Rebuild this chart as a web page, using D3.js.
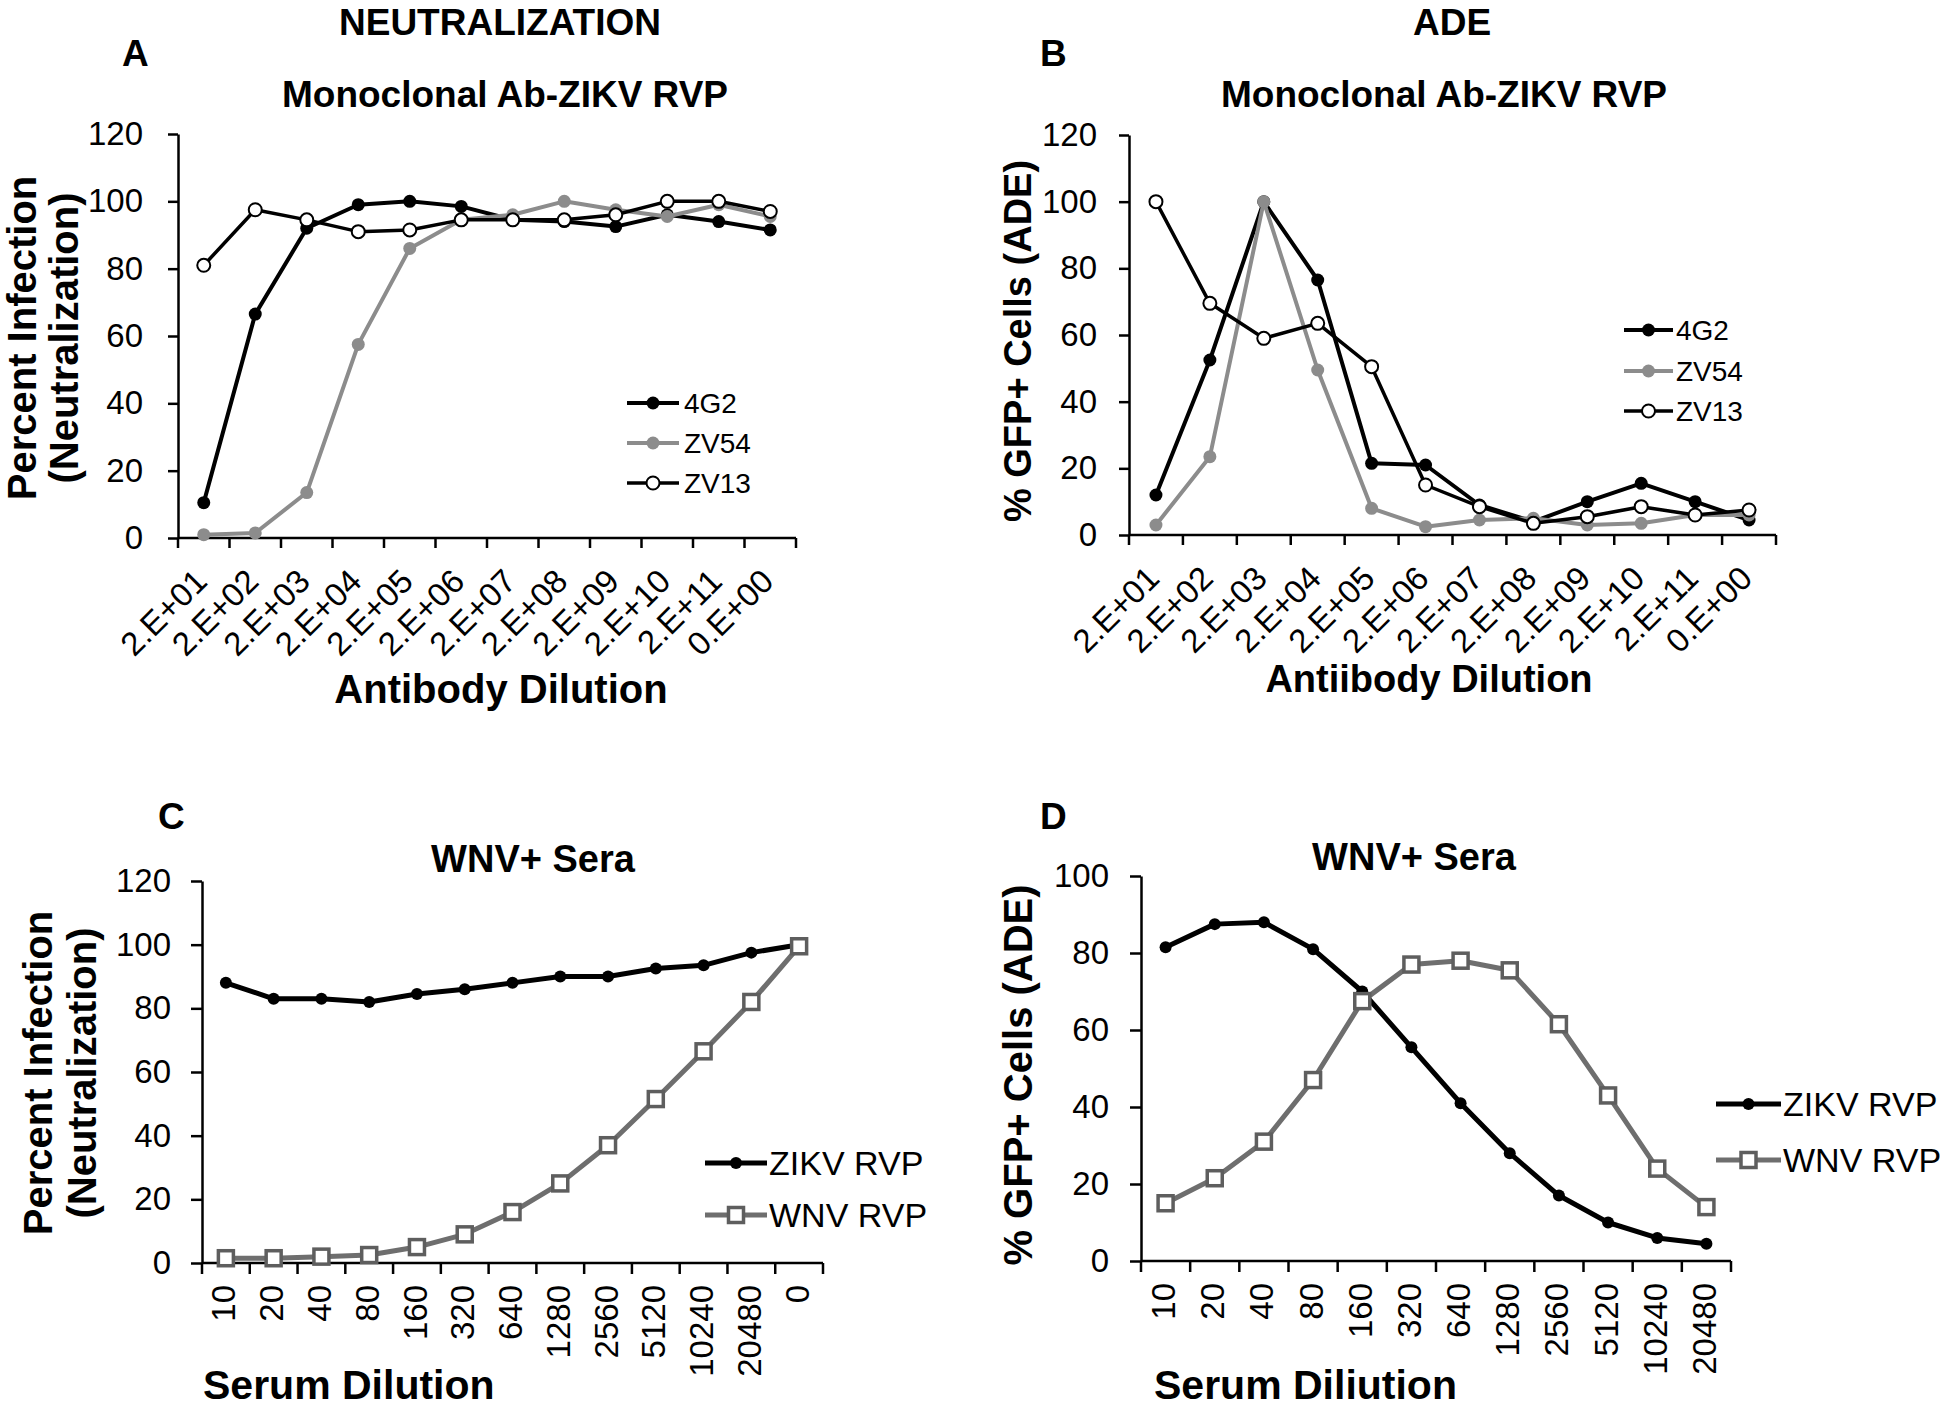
<!DOCTYPE html>
<html>
<head>
<meta charset="utf-8">
<script src="https://cdn.jsdelivr.net/npm/d3@7"></script>
<style>
  html, body { margin: 0; padding: 0; background: #fff; }
  svg { display: block; }
  text { font-family: "Liberation Sans", Arial, sans-serif; fill: #000; }
</style>
</head>
<body>
<script>
// ---------------- DATA ----------------
const antibodyDilutions = ["2.E+01","2.E+02","2.E+03","2.E+04","2.E+05","2.E+06","2.E+07","2.E+08","2.E+09","2.E+10","2.E+11","0.E+00"];

// Panel A: Neutralization (percent infection)
const neut4G2  = [10.5, 66.5, 92, 99, 100, 98.5, 94.5, 94, 92.5, 96, 94, 91.5];
const neutZV54 = [1, 1.5, 13.5, 57.5, 86, 94.5, 96, 100, 97.5, 95.5, 99, 95.5];
const neutZV13 = [81, 97.5, 94.5, 91, 91.5, 94.5, 94.5, 94.5, 96, 100, 100, 97];

// Panel B: ADE (% GFP+ cells)
const ade4G2  = [12, 52.5, 100, 76.5, 21.5, 21, 9, 4, 10, 15.5, 10, 4.5];
const adeZV54 = [3, 23.5, 100, 49.5, 8, 2.5, 4.5, 5, 3, 3.5, 6, 6];
const adeZV13 = [100, 69.5, 59, 63.5, 50.5, 15, 8.5, 3.5, 5.5, 8.5, 6, 7.5];

// Panel C: WNV+ sera neutralization
const serumDilutionsC = ["10","20","40","80","160","320","640","1280","2560","5120","10240","20480","0"];
const neutZIKV = [88, 83, 83, 82, 84.5, 86, 88, 90, 90, 92.5, 93.5, 97.5, 100];
const neutWNV  = [1.5, 1.5, 2, 2.5, 5, 9, 16, 25, 37, 51.5, 66.5, 82, 99.5];

// Panel D: WNV+ sera ADE
const serumDilutionsD = ["10","20","40","80","160","320","640","1280","2560","5120","10240","20480"];
const adeZIKV = [81.5, 87.5, 88, 81, 70, 55.5, 41, 28, 17, 10, 6, 4.5];
const adeWNV  = [15, 21.5, 31, 47, 67.5, 77, 78, 75.5, 61.5, 43, 24, 14];

const yTicks120 = [0, 20, 40, 60, 80, 100, 120];
const yTicks100 = [0, 20, 40, 60, 80, 100];

// ---------------- STYLES ----------------
const BLACK = "#000";
const GRAY = "#8c8c8c";
const DGRAY = "#6e6e6e";

const W = 1946, H = 1409;
const svg = d3.select("body").append("svg").attr("width", W).attr("height", H)
  .attr("viewBox", `0 0 ${W} ${H}`);

function txt(x, y, s, size, opts = {}) {
  const t = svg.append("text")
    .attr("x", x).attr("y", y)
    .attr("font-size", size)
    .attr("font-weight", opts.bold ? "bold" : "normal")
    .attr("text-anchor", opts.anchor || "start")
    .text(s);
  if (opts.rotate) {
    t.attr("x", null).attr("y", null)
     .attr("transform", `translate(${x},${y}) rotate(${opts.rotate})`)
     .attr("dy", "0.35em");
  }
  return t;
}

function panel(cfg) {
  const g = svg.append("g");
  const x = d3.scaleBand().domain(cfg.categories).range([cfg.x0, cfg.x1]).paddingInner(0).paddingOuter(0);
  const y = d3.scaleLinear().domain([0, cfg.yMax]).range([cfg.y0, cfg.yTop]);
  const cx = d => x(d) + x.bandwidth() / 2;

  // y axis
  const yAxis = d3.axisLeft(y).tickValues(cfg.yTicks).tickSize(cfg.tick).tickSizeOuter(0).tickPadding(cfg.yPad);
  const ya = g.append("g").attr("transform", `translate(${cfg.x0},0)`).call(yAxis);
  ya.select(".domain").attr("stroke", BLACK).attr("stroke-width", 2.5);
  ya.selectAll(".tick line").attr("stroke", BLACK).attr("stroke-width", 2.5);
  ya.selectAll(".tick text").attr("font-size", cfg.tickFont)
    .attr("font-family", '"Liberation Sans", Arial, sans-serif').attr("fill", BLACK);

  // x axis line + boundary ticks
  g.append("line").attr("x1", cfg.x0).attr("x2", cfg.x1).attr("y1", cfg.y0).attr("y2", cfg.y0)
    .attr("stroke", BLACK).attr("stroke-width", 2.5);
  const bounds = cfg.categories.map(d => x(d)).concat([cfg.x1]);
  g.selectAll(".xb").data(bounds).enter().append("line")
    .attr("x1", d => d).attr("x2", d => d).attr("y1", cfg.y0).attr("y2", cfg.y0 + cfg.xTick)
    .attr("stroke", BLACK).attr("stroke-width", 2.5);

  // x labels
  g.selectAll(".xl").data(cfg.categories).enter().append("text")
    .attr("font-size", cfg.tickFont)
    .attr("text-anchor", "end")
    .attr("dy", "0.35em")
    .attr("transform", d => cfg.xRot === -45
      ? `translate(${cx(d) - 3},${cfg.y0 + 37}) rotate(-45)`
      : `translate(${cx(d) - 2},${cfg.y0 + 22}) rotate(-90)`)
    .text(d => d);

  // series
  cfg.series.forEach(s => {
    const line = d3.line().x((v, i) => cx(cfg.categories[i])).y(v => y(v));
    g.append("path").datum(s.values).attr("d", line)
      .attr("fill", "none").attr("stroke", s.color).attr("stroke-width", s.width)
      .attr("stroke-linejoin", "round");
    drawMarkers(g, s, s.values.map((v, i) => [cx(cfg.categories[i]), y(v)]));
  });

  // legend
  cfg.series.forEach((s, i) => {
    const ly = cfg.legend.y[i];
    g.append("line").attr("x1", cfg.legend.x1).attr("x2", cfg.legend.x2).attr("y1", ly).attr("y2", ly)
      .attr("stroke", s.color).attr("stroke-width", s.width);
    drawMarkers(g, s, [[(cfg.legend.x1 + cfg.legend.x2) / 2, ly]]);
    g.append("text").attr("x", cfg.legend.tx).attr("y", ly).attr("dy", "0.35em")
      .attr("font-size", cfg.legend.font).text(s.name);
  });
}

function drawMarkers(g, s, pts) {
  if (s.marker === "square") {
    g.selectAll(null).data(pts).enter().append("rect")
      .attr("x", d => d[0] - s.size / 2).attr("y", d => d[1] - s.size / 2)
      .attr("width", s.size).attr("height", s.size)
      .attr("fill", "#fff").attr("stroke", s.markerStroke).attr("stroke-width", 3.5);
  } else {
    g.selectAll(null).data(pts).enter().append("circle")
      .attr("cx", d => d[0]).attr("cy", d => d[1]).attr("r", s.size)
      .attr("fill", s.fill).attr("stroke", s.markerStroke).attr("stroke-width", s.open ? 2 : 0);
  }
}

// ---------------- PANEL A ----------------
panel({
  categories: antibodyDilutions, x0: 178, x1: 796, y0: 538, yTop: 134, yMax: 120,
  yTicks: yTicks120, tick: 10, xTick: 10, yPad: 25, tickFont: 33, xRot: -45,
  series: [
    {name: "4G2", values: neut4G2, color: BLACK, width: 4, fill: BLACK, markerStroke: BLACK, size: 6.5},
    {name: "ZV54", values: neutZV54, color: GRAY, width: 4, fill: GRAY, markerStroke: GRAY, size: 6.5},
    {name: "ZV13", values: neutZV13, color: BLACK, width: 3.5, fill: "#fff", markerStroke: BLACK, size: 6.5, open: true}
  ],
  legend: {x1: 627, x2: 679, tx: 684, y: [403, 443, 483], font: 28}
});

// ---------------- PANEL B ----------------
panel({
  categories: antibodyDilutions, x0: 1129, x1: 1776, y0: 535, yTop: 135, yMax: 120,
  yTicks: yTicks120, tick: 10, xTick: 10, yPad: 22, tickFont: 33, xRot: -45,
  series: [
    {name: "4G2", values: ade4G2, color: BLACK, width: 4, fill: BLACK, markerStroke: BLACK, size: 6.5},
    {name: "ZV54", values: adeZV54, color: GRAY, width: 4, fill: GRAY, markerStroke: GRAY, size: 6.5},
    {name: "ZV13", values: adeZV13, color: BLACK, width: 3.5, fill: "#fff", markerStroke: BLACK, size: 6.5, open: true}
  ],
  legend: {x1: 1624, x2: 1673, tx: 1676, y: [330, 371, 411], font: 28}
});

// ---------------- PANEL C ----------------
panel({
  categories: serumDilutionsC, x0: 202, x1: 823, y0: 1263, yTop: 881, yMax: 120,
  yTicks: yTicks120, tick: 11, xTick: 11, yPad: 20, tickFont: 33, xRot: -90,
  series: [
    {name: "ZIKV RVP", values: neutZIKV, color: BLACK, width: 5, fill: BLACK, markerStroke: BLACK, size: 6},
    {name: "WNV RVP", values: neutWNV, color: DGRAY, width: 5, fill: "#fff", markerStroke: "#5e5e5e", size: 15, marker: "square"}
  ],
  legend: {x1: 705, x2: 767, tx: 769, y: [1163, 1215], font: 34}
});

// ---------------- PANEL D ----------------
panel({
  categories: serumDilutionsD, x0: 1141, x1: 1731, y0: 1261, yTop: 876, yMax: 100,
  yTicks: yTicks100, tick: 11, xTick: 11, yPad: 21, tickFont: 33, xRot: -90,
  series: [
    {name: "ZIKV RVP", values: adeZIKV, color: BLACK, width: 5, fill: BLACK, markerStroke: BLACK, size: 6},
    {name: "WNV RVP", values: adeWNV, color: DGRAY, width: 5, fill: "#fff", markerStroke: "#5e5e5e", size: 15, marker: "square"}
  ],
  legend: {x1: 1716, x2: 1781, tx: 1783, y: [1104, 1160], font: 34}
});

// ---------------- TEXT ----------------
txt(500, 35, "NEUTRALIZATION", 37, {bold: true, anchor: "middle"});
txt(1452, 35, "ADE", 37, {bold: true, anchor: "middle"});
txt(122, 66, "A", 37, {bold: true});
txt(1040, 66, "B", 37, {bold: true});
txt(505, 107, "Monoclonal Ab-ZIKV RVP", 37, {bold: true, anchor: "middle"});
txt(1444, 107, "Monoclonal Ab-ZIKV RVP", 37, {bold: true, anchor: "middle"});
txt(501, 703, "Antibody Dilution", 40, {bold: true, anchor: "middle"});
txt(1429, 692, "Antiibody Dilution", 38, {bold: true, anchor: "middle"});
txt(22, 338, "Percent Infection", 40, {bold: true, anchor: "middle", rotate: -90});
txt(64, 338, "(Neutralization)", 40, {bold: true, anchor: "middle", rotate: -90});
txt(1018, 341, "% GFP+ Cells (ADE)", 38, {bold: true, anchor: "middle", rotate: -90});

txt(158, 829, "C", 37, {bold: true});
txt(1040, 829, "D", 37, {bold: true});
txt(533, 872, "WNV+ Sera", 38, {bold: true, anchor: "middle"});
txt(1414, 870, "WNV+ Sera", 38, {bold: true, anchor: "middle"});
txt(38, 1073, "Percent Infection", 40, {bold: true, anchor: "middle", rotate: -90});
txt(82, 1073, "(Neutralization)", 40, {bold: true, anchor: "middle", rotate: -90});
txt(1018, 1075, "% GFP+ Cells (ADE)", 40, {bold: true, anchor: "middle", rotate: -90});
txt(203, 1399, "Serum Dilution", 41, {bold: true});
txt(1154, 1399, "Serum Diliution", 41, {bold: true});
</script>
</body>
</html>
